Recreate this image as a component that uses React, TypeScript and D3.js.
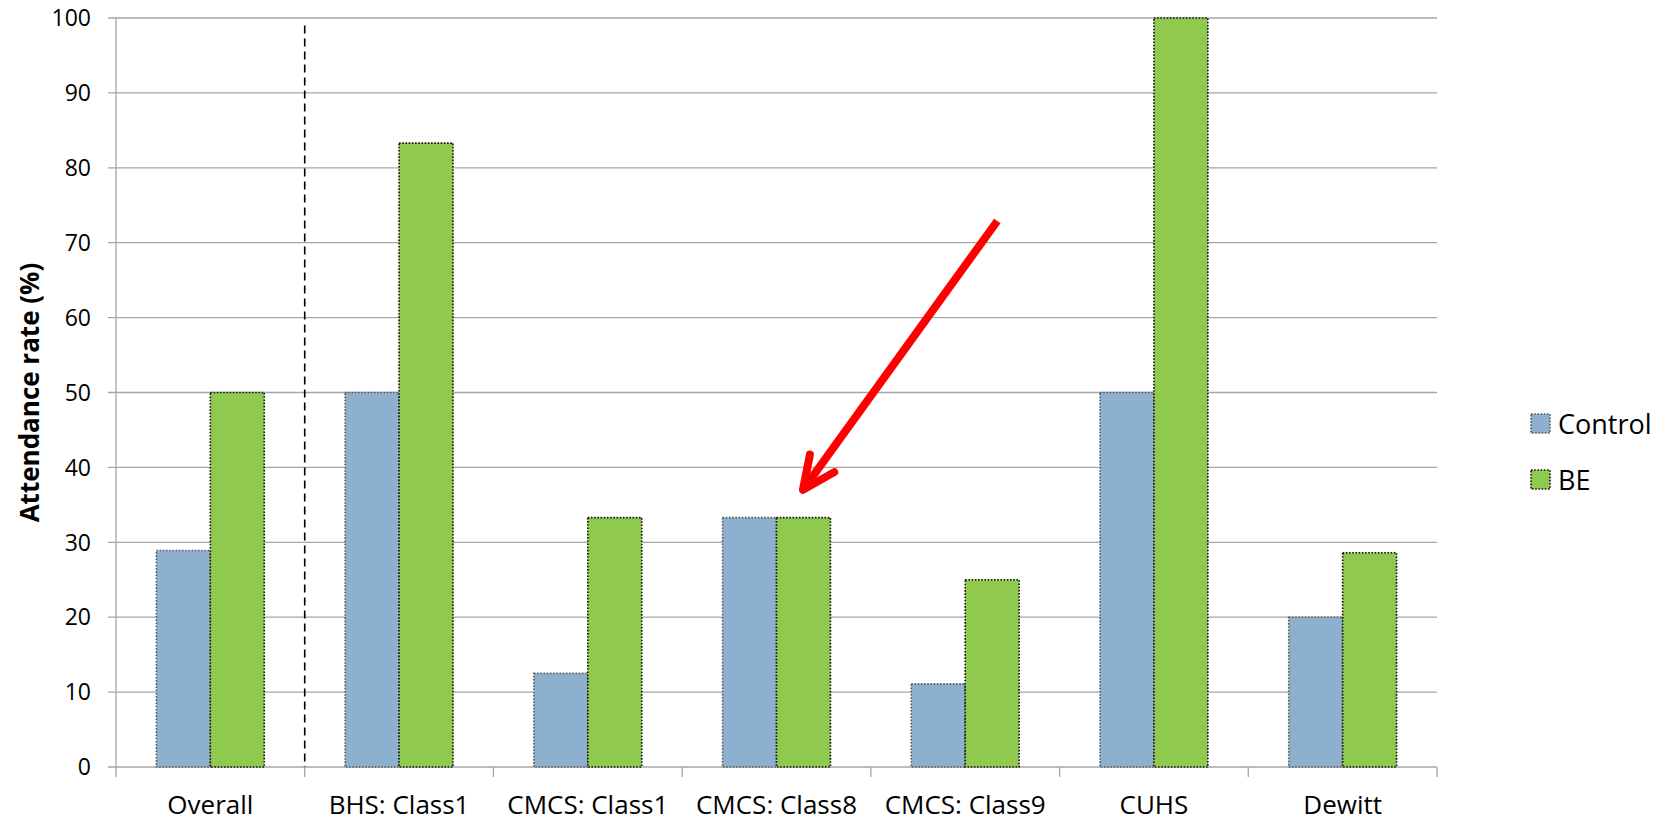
import React from "react";
import * as d3 from "d3";

const categories = ["Overall", "BHS: Class1", "CMCS: Class1", "CMCS: Class8", "CMCS: Class9", "CUHS", "Dewitt"];
const seriesNames = ["Control", "BE"];
const controlValues = [28.9, 50, 12.5, 33.3, 11.1, 50, 20];
const beValues = [50, 83.3, 33.3, 33.3, 25, 100, 28.6];
const yTicks = [0, 10, 20, 30, 40, 50, 60, 70, 80, 90, 100];
const yTitle = "Attendance rate (%)";
// arrow annotation in data terms: [category position (in category units), value]
const arrowStart = [4.67, 72.9];
const arrowEnd = [3.64, 37.0];

const W = 1670, H = 822;
const L = 116, R = 1437, T = 18, B = 767;
const FONT = "'Open Sans', 'Noto Sans', sans-serif";

export default function App() {
  const x = d3.scaleBand<string>().domain(categories).range([L, R]).paddingInner(0).paddingOuter(0);
  const xc = d3.scaleLinear().domain([0, categories.length]).range([L, R]);
  const y = d3.scaleLinear().domain([0, 100]).range([B, T]);
  const bw = x.bandwidth() / 3.5;
  const colors = ["#8DB0CF", "#8FCA4E"];
  const strokes = ["#5a5a5a", "#111"];
  const series = [controlValues, beValues];

  const ax = xc(arrowStart[0]), ay = y(arrowStart[1]);
  const bx = xc(arrowEnd[0]), by = y(arrowEnd[1]);
  const ang = Math.atan2(by - ay, bx - ax);
  const headLen = 36;
  const wing = (sign: number) => {
    const a = ang + Math.PI + sign * 0.43;
    return [bx + headLen * Math.cos(a), by + headLen * Math.sin(a)];
  };
  const w1 = wing(1), w2 = wing(-1);

  return (
    <svg width={W} height={H} style={{ position: "absolute", left: 0, top: 0, background: "#fff" }}>
      {/* gridlines */}
      {yTicks.map((t) => (
        <line key={t} x1={L - 8} x2={R} y1={y(t)} y2={y(t)} stroke="#A6A6A6" strokeWidth={1.3} />
      ))}
      {/* y axis */}
      <line x1={L} x2={L} y1={T} y2={B} stroke="#A6A6A6" strokeWidth={1.3} />
      {/* x ticks */}
      {d3.range(categories.length + 1).map((i) => (
        <line key={i} x1={xc(i)} x2={xc(i)} y1={B} y2={B + 10} stroke="#A6A6A6" strokeWidth={1.3} />
      ))}
      {/* y tick labels */}
      {yTicks.map((t) => (
        <text key={t} x={91} y={y(t)} dy="0.36em" textAnchor="end" fontFamily={FONT} fontSize={23} fill="#000">
          {t}
        </text>
      ))}
      {/* bars */}
      {categories.map((c, i) => {
        const cx = (x(c) as number) + x.bandwidth() / 2;
        return series.map((vals, s) => {
          const x0 = cx - bw + s * bw;
          return (
            <rect
              key={c + s}
              x={x0}
              y={y(vals[i])}
              width={bw}
              height={B - y(vals[i])}
              fill={colors[s]}
              stroke={strokes[s]}
              strokeWidth={1.6}
              strokeDasharray="1.6 1.6"
            />
          );
        });
      })}
      {/* dashed separator */}
      <line x1={xc(1)} x2={xc(1)} y1={y(99)} y2={B} stroke="#000" strokeWidth={1.6} strokeDasharray="8 5" />
      {/* x labels */}
      {categories.map((c) => (
        <text key={c} x={(x(c) as number) + x.bandwidth() / 2} y={814} textAnchor="middle" fontFamily={FONT} fontSize={26} fill="#000">
          {c}
        </text>
      ))}
      {/* y title */}
      <text
        transform={`translate(39, ${(T + B) / 2}) rotate(-90)`}
        textAnchor="middle"
        fontFamily={FONT}
        fontWeight="bold"
        fontSize={26}
        fill="#000"
      >
        {yTitle}
      </text>
      {/* legend */}
      {seriesNames.map((n, s) => (
        <g key={n} transform={`translate(1531, ${414 + s * 56})`}>
          <rect x={0} y={0} width={19} height={19} fill={colors[s]} stroke={strokes[s]} strokeWidth={1.6} strokeDasharray="1.6 1.6" />
          <text x={27} y={20} fontFamily={FONT} fontSize={27} fill="#000">
            {n}
          </text>
        </g>
      ))}
      {/* arrow */}
      <g stroke="#FF0000" strokeWidth={8} strokeLinecap="round" strokeLinejoin="round" fill="none">
        <line x1={ax} y1={ay} x2={bx} y2={by} strokeLinecap="butt" />
        <polyline points={`${w1[0]},${w1[1]} ${bx},${by} ${w2[0]},${w2[1]}`} />
      </g>
    </svg>
  );
}
